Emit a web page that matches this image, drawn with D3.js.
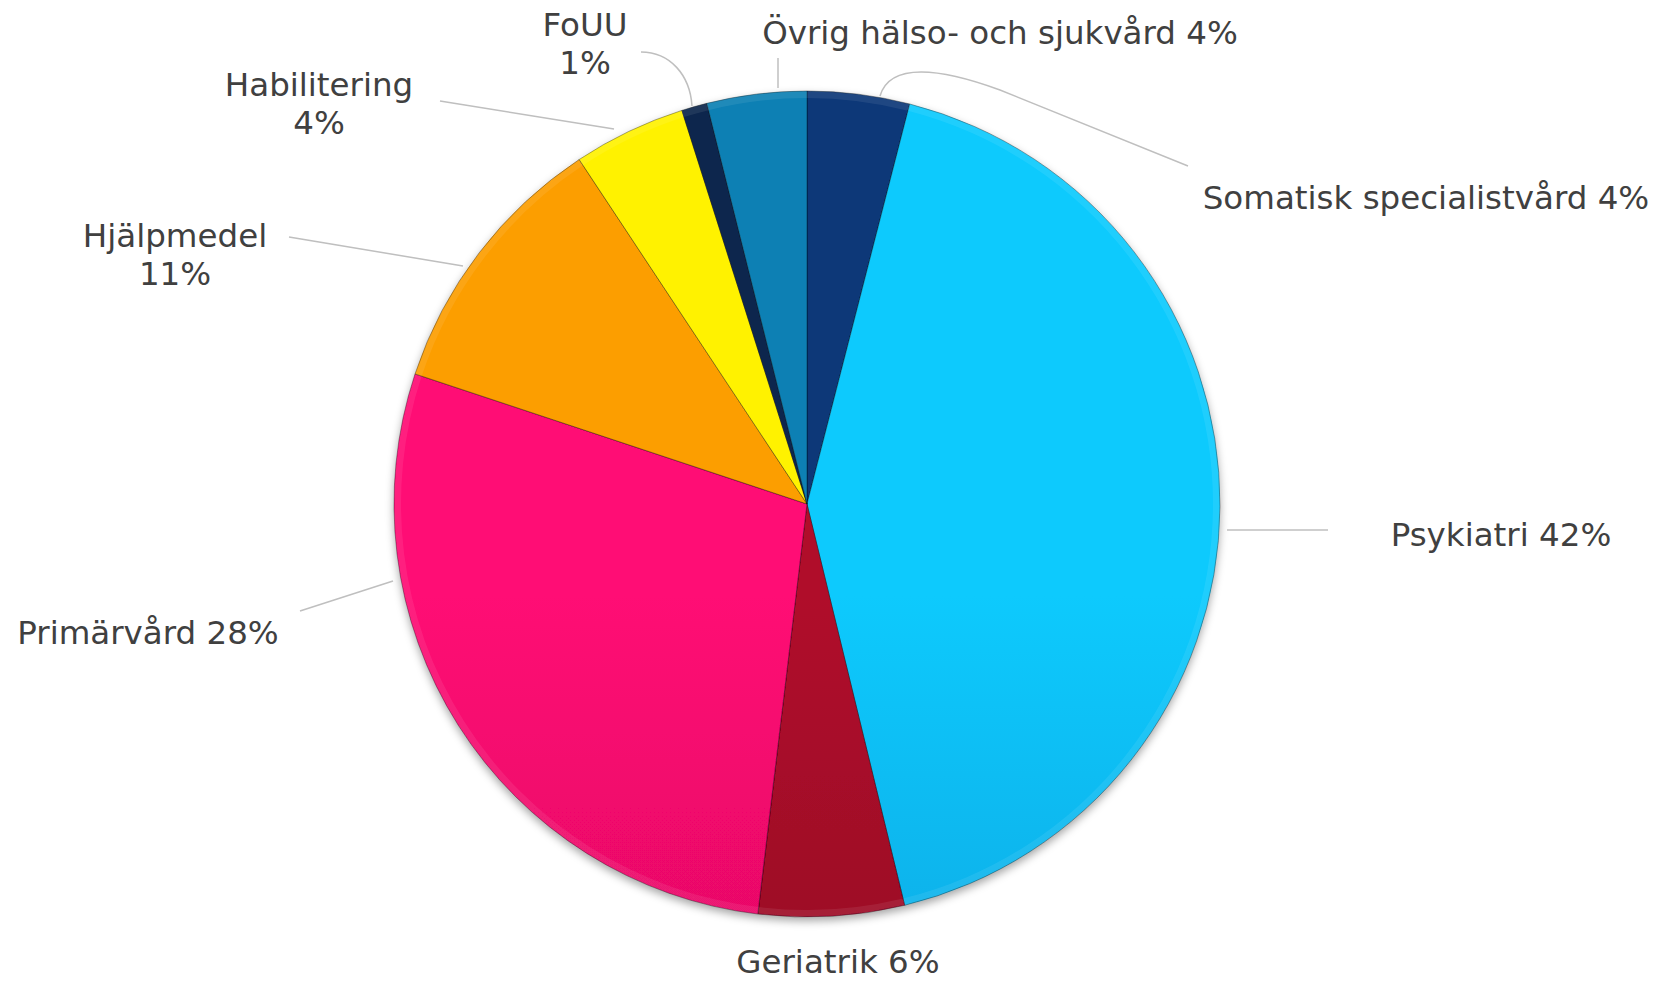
<!DOCTYPE html>
<html>
<head>
<meta charset="utf-8">
<script src="https://cdn.jsdelivr.net/npm/d3@7"></script>
<style>
	html, body { margin: 0; padding: 0; background: #ffffff; }
	svg text { font-family: "DejaVu Sans", Verdana, sans-serif; fill: #404040; }
</style>
</head>
<body>
<svg id="svg"></svg>
<script>
// Andel av kostnaderna, i procent (medurs från kl. 12)
var categories = ["Somatisk specialistvård", "Psykiatri", "Geriatrik", "Primärvård",
		  "Hjälpmedel", "Habilitering", "FoUU", "Övrig hälso- och sjukvård"];
var values     = [4.0, 42.2, 5.7, 28.2, 10.6, 4.4, 1.0, 3.9];

// färger: [topp, botten]
var colors = {
	"Somatisk specialistvård":   ["#0a3878", "#042654"],
	"Psykiatri":                 ["#0ccafd", "#038ecf"],
	"Geriatrik":                 ["#b00a2c", "#82031e"],
	"Primärvård":                ["#ff0874", "#c80456"],
	"Hjälpmedel":                ["#fc9e06", "#d87900"],
	"Habilitering":              ["#fff200", "#eec400"],
	"FoUU":                      ["#0c284e", "#061832"],
	"Övrig hälso- och sjukvård": ["#0a80b4", "#065e8a"]
};

// etikettplacering (som i originalet, manuellt utplacerade)
var labelLayout = {
	"Somatisk specialistvård":   {x: 1426, y: 209, two: false, leader: "M880,96 C890,62 940,68 1000,90 L1188,166"},
	"Psykiatri":                 {x: 1501, y: 546, two: false, leader: "M1227,530 L1328,530"},
	"Geriatrik":                 {x: 838,  y: 973, two: false, leader: null},
	"Primärvård":                {x: 148,  y: 644, two: false, leader: "M393,581 L300,611"},
	"Hjälpmedel":                {x: 175,  y: 247, two: true,  leader: "M463,266 L289,237"},
	"Habilitering":              {x: 319,  y: 96,  two: true,  leader: "M614,129 L440,101"},
	"FoUU":                      {x: 585,  y: 36,  two: true,  leader: "M641,52 C670,52 690,75 692,106"},
	"Övrig hälso- och sjukvård": {x: 1000, y: 44,  two: false, leader: "M778,58 L778,88"}
};

var width  = 1666,
    height = 982;
var cx = 807, cy = 504, radius = 413;
var lineGap = 38;

var data = categories.map(function(c, i) { return {name: c, value: values[i]}; });
var total = d3.sum(values);
var pct = d3.format(".0f");

var svg = d3.select("#svg")
	    .attr("width", width)
	    .attr("height", height);

var defs = svg.append("defs");

var shadow = defs.append("filter")
	    .attr("id", "shadow")
	    .attr("x", "-10%").attr("y", "-10%")
	    .attr("width", "120%").attr("height", "120%");
shadow.append("feDropShadow")
	.attr("dx", 0).attr("dy", 4)
	.attr("stdDeviation", 4)
	.attr("flood-color", "#000")
	.attr("flood-opacity", 0.35);

data.forEach(function(d, i) {
	var g = defs.append("linearGradient")
		    .attr("id", "grad" + i)
		    .attr("gradientUnits", "userSpaceOnUse")
		    .attr("x1", 0).attr("y1", cy - radius)
		    .attr("x2", 0).attr("y2", cy + radius);
	g.append("stop").attr("offset", "0%").attr("stop-color", colors[d.name][0]);
	g.append("stop").attr("offset", "100%").attr("stop-color", colors[d.name][1]);
});

var pie = d3.pie()
	    .sort(null)
	    .value(function(d) { return d.value; });

var arc = d3.arc()
	    .innerRadius(0)
	    .outerRadius(radius);

var rim = d3.arc()
	    .innerRadius(radius - 7)
	    .outerRadius(radius);

var Pie = svg.append("g")
	    .attr("transform", "translate(" + cx + "," + cy + ")");

var arcs = pie(data);

Pie.append("g")
	.attr("filter", "url(#shadow)")
	.selectAll(".slice")
	.data(arcs)
	.enter()
	.append("path")
	.attr("class", "slice")
	.attr("d", arc)
	.attr("fill", function(d, i) { return "url(#grad" + i + ")"; })
	.attr("stroke", "rgba(0,0,0,0.35)")
	.attr("stroke-width", 1);

// lätt avfasning längs ytterkanten
Pie.append("g")
	.selectAll(".rim")
	.data(arcs)
	.enter()
	.append("path")
	.attr("class", "rim")
	.attr("d", rim)
	.attr("fill", "rgba(255,255,255,0.08)");

// ledarlinjer
svg.append("g")
	.selectAll(".leader")
	.data(data.filter(function(d) { return labelLayout[d.name].leader; }))
	.enter()
	.append("path")
	.attr("class", "leader")
	.attr("d", function(d) { return labelLayout[d.name].leader; })
	.attr("fill", "none")
	.attr("stroke", "#bfbfbf")
	.attr("stroke-width", 1.5);

// etiketter
var labels = svg.append("g")
	    .selectAll(".label")
	    .data(data)
	    .enter()
	    .append("text")
	    .attr("class", "label")
	    .attr("text-anchor", "middle")
	    .style("font-size", "32.5px");

labels.each(function(d) {
	var L = labelLayout[d.name];
	var p = pct(d.value / total * 100) + "%";
	var t = d3.select(this);
	if (L.two) {
		t.append("tspan").attr("x", L.x).attr("y", L.y).text(d.name);
		t.append("tspan").attr("x", L.x).attr("y", L.y + lineGap).text(p);
	} else {
		t.append("tspan").attr("x", L.x).attr("y", L.y).text(d.name + " " + p);
	}
});
</script>
</body>
</html>
